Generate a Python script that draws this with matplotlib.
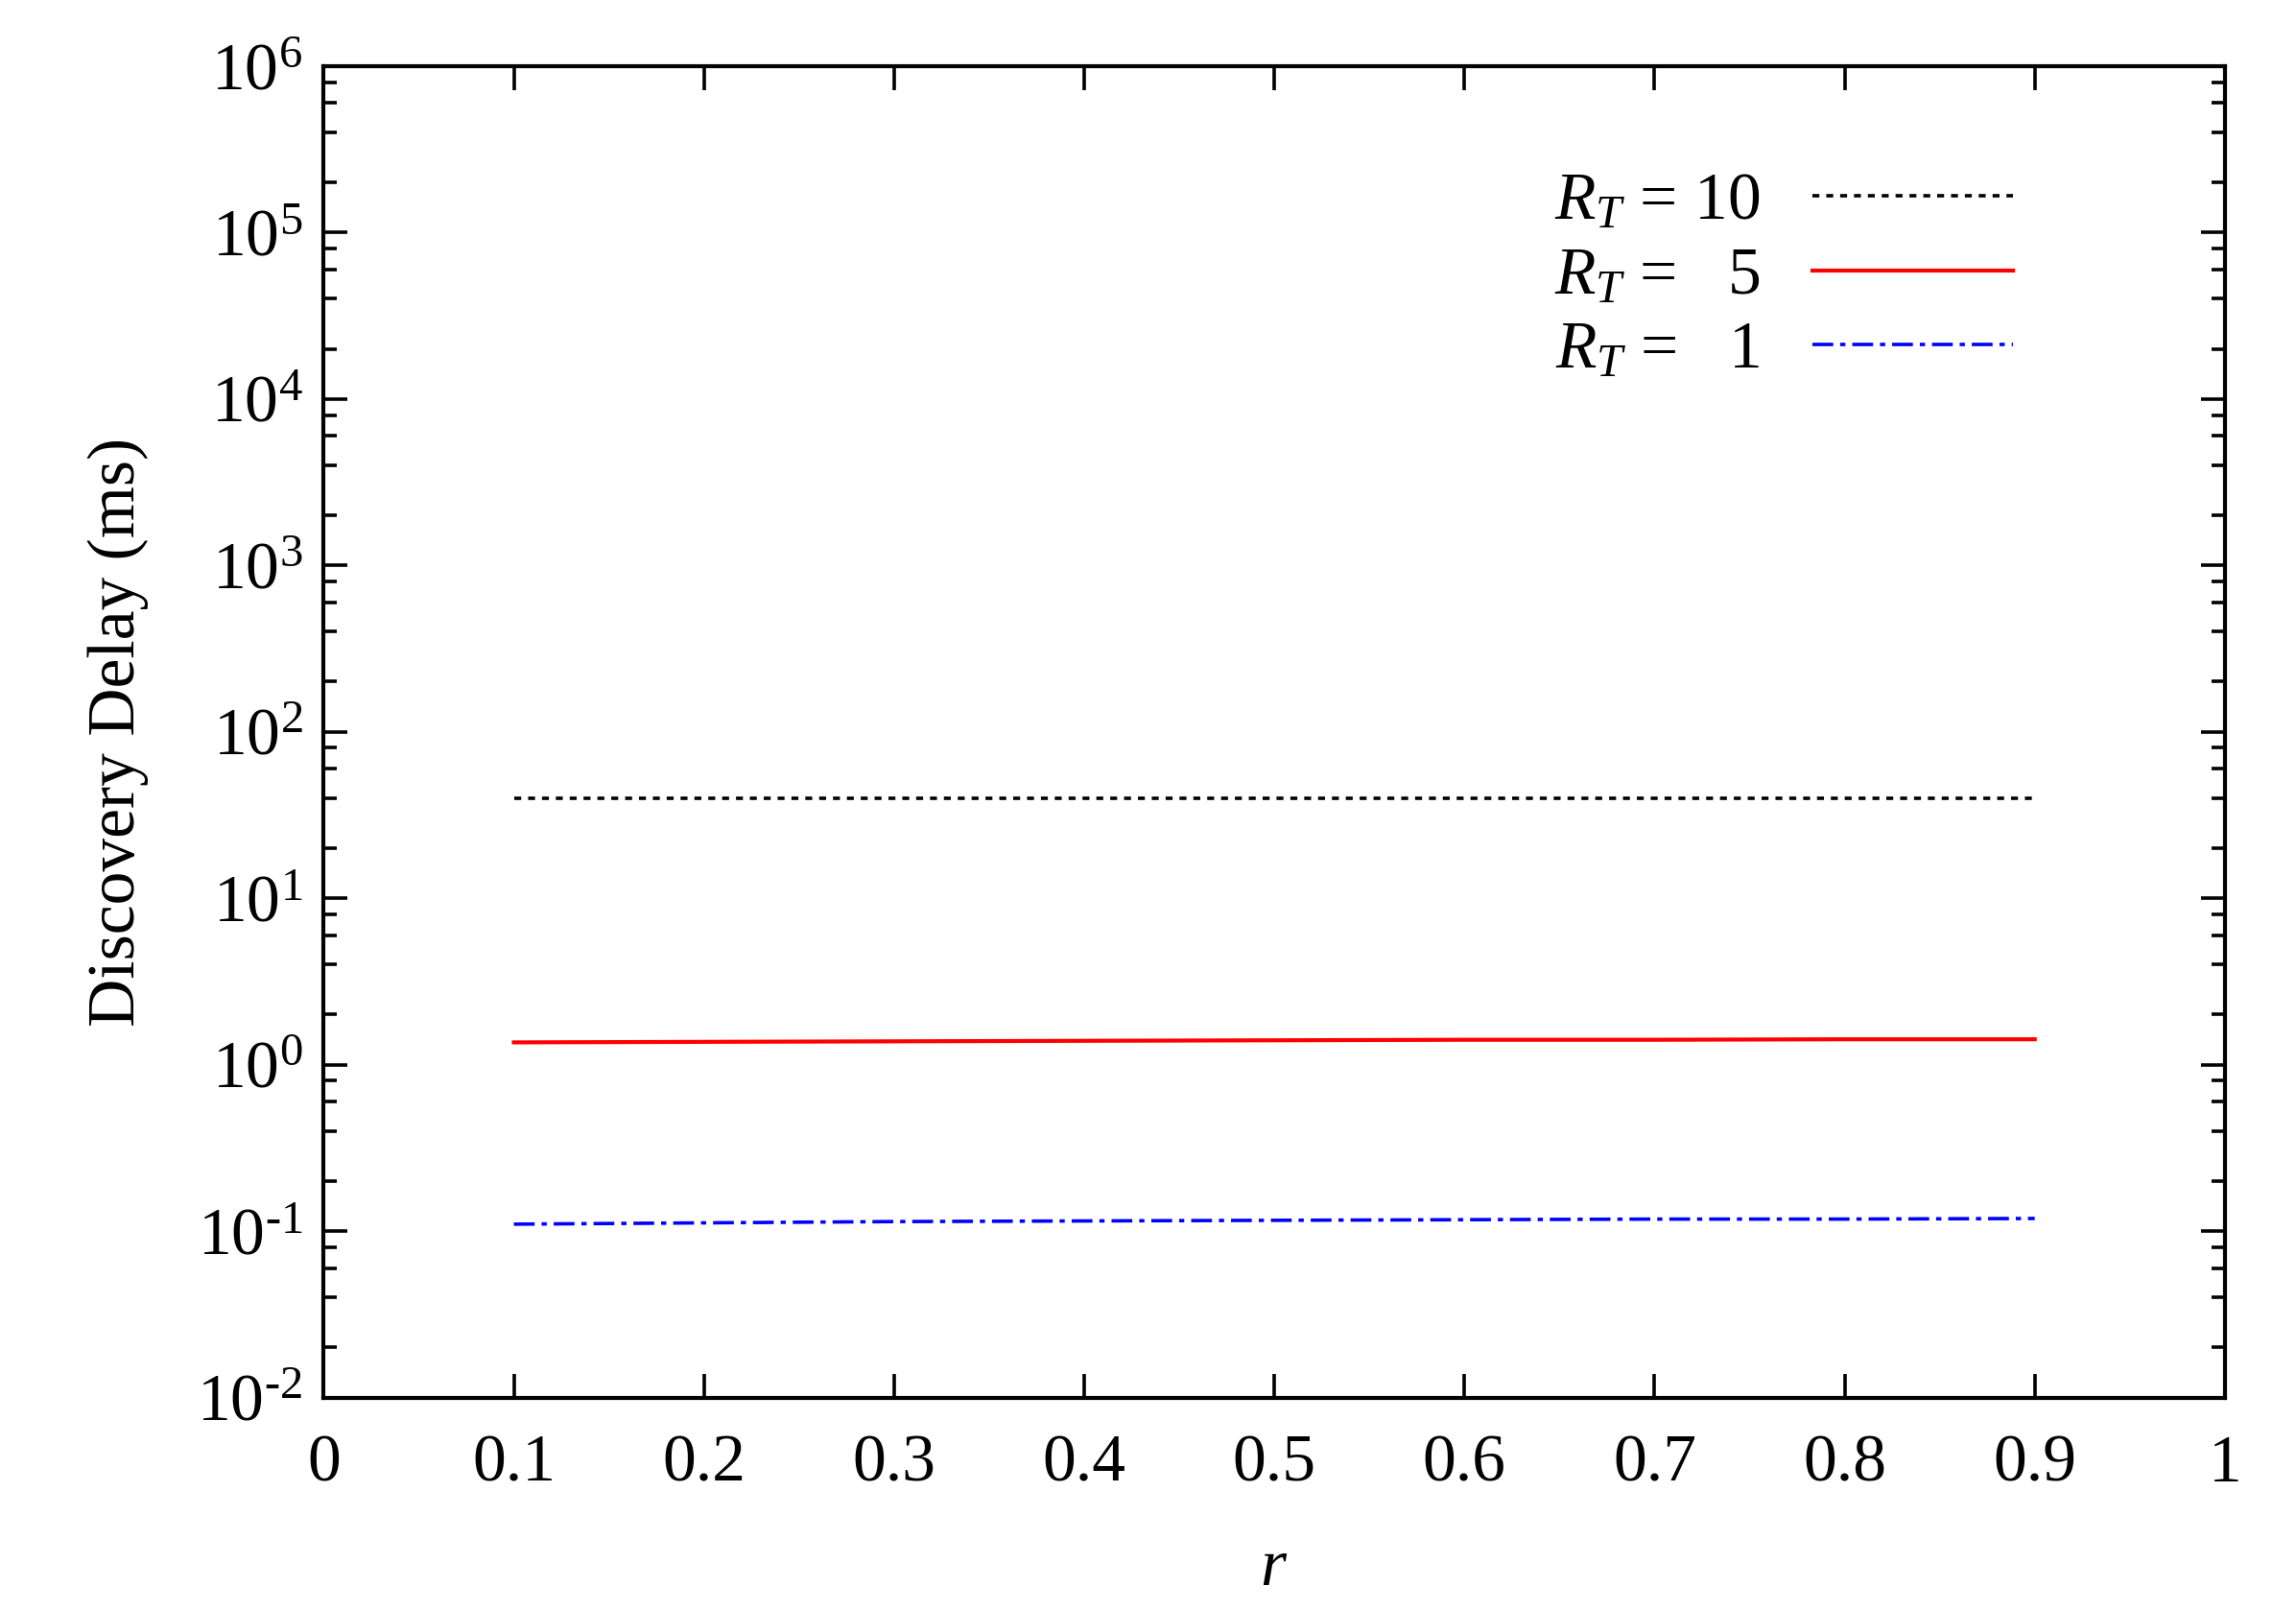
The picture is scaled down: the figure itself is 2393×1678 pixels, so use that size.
import matplotlib
matplotlib.use("Agg")
import matplotlib.pyplot as plt
import numpy as np
from matplotlib.ticker import LogLocator, FixedLocator

plt.rcParams['font.family'] = ['Liberation Serif']
plt.rcParams['mathtext.fontset'] = 'custom'
plt.rcParams['mathtext.rm'] = 'Liberation Serif'
plt.rcParams['mathtext.it'] = 'Liberation Serif:italic'

r = [0.1, 0.2, 0.3, 0.4, 0.5, 0.6, 0.7, 0.8, 0.9]
rt10 = [40, 40, 40, 40, 40, 40, 40, 40, 40]
rt5 = [1.36, 1.37, 1.38, 1.39, 1.40, 1.41, 1.41, 1.42, 1.42]
rt1 = [0.110, 0.112, 0.114, 0.115, 0.116, 0.117, 0.118, 0.118, 0.119]

fig = plt.figure(figsize=(2393/200, 1678/200), dpi=200)
ax = fig.add_axes([0.141, 0.132, 0.828, 0.827])
ax.plot(r, rt10, color='black', ls=(0, (2, 2)), lw=1.3, label=r'$R_T$ = 10')
ax.plot(r, rt5, color='red', ls='-', lw=1.5, label=r'$R_T$ =   5')
ax.plot(r, rt1, color='blue', ls=(0, (6, 2, 1.5, 2)), lw=1.3, label=r'$R_T$ =   1')
ax.set_yscale('log')
ax.set_xlim(0, 1)
ax.set_ylim(1e-2, 1e6)
ax.set_xticks(np.arange(0, 1.01, 0.1))
ax.set_xticklabels(['0', '0.1', '0.2', '0.3', '0.4', '0.5', '0.6', '0.7', '0.8', '0.9', '1'])
ax.yaxis.set_major_locator(FixedLocator([10.0**k for k in range(-2, 7)]))
ax.set_yticklabels([r'$10^{\text{%d}}$' % k for k in range(-2, 7)])
ax.yaxis.set_minor_locator(LogLocator(base=10, subs=[2, 4, 6, 8], numticks=20))
ax.yaxis.set_minor_formatter(plt.NullFormatter())
ax.tick_params(which='both', direction='in', top=True, right=True, labelsize=25, width=1.3)
ax.tick_params(which='major', length=9)
ax.tick_params(which='minor', length=5)
ax.tick_params(axis='x', pad=14)
ax.tick_params(axis='y', pad=8)
for s in ax.spines.values():
    s.set_linewidth(1.5)
ax.set_xlabel(r'$r$', fontsize=25, labelpad=16)
ax.set_ylabel('Discovery Delay (ms)', fontsize=25, labelpad=18)
ax.legend(loc='upper right', bbox_to_anchor=(0.92, 0.965), frameon=False, markerfirst=False,
          fontsize=25, handlelength=3.0, labelspacing=0.2)
fig.savefig('out.png', dpi=200)
